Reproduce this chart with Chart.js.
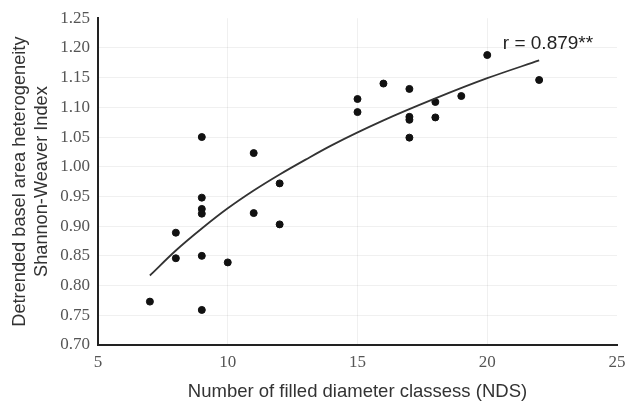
<!DOCTYPE html>
<html lang="en">
  <head>
    <meta charset="UTF-8" />
    <title>NDS vs heterogeneity</title>
    <script src="https://cdn.jsdelivr.net/npm/chart.js"></script>
    <style>
      html, body { margin: 0; padding: 0; background: #fff; }
      .wrap { width: 625px; height: 403px; }
    </style>
  </head>
  <body>
    <div class="wrap">
      <canvas id="ndsChart" width="625" height="403"></canvas>
    </div>

    <script>
      // observed points (NDS, detrended Shannon-Weaver index)
      const ndsX = [7, 8, 8, 9, 9, 9, 9, 9, 9, 10, 11, 11, 12, 12,
                    15, 15, 16, 17, 17, 17, 17, 18, 18, 19, 20, 22];
      const indexY = [0.773, 0.889, 0.846, 1.050, 0.948, 0.929, 0.921, 0.850, 0.759, 0.839, 1.023, 0.922, 0.972, 0.903,
                      1.114, 1.092, 1.140, 1.131, 1.084, 1.079, 1.049, 1.109, 1.083, 1.119, 1.188, 1.146];

      // fitted curve
      const trendX = [7, 8, 9, 10, 11, 12, 13, 14, 16, 18, 20, 22];
      const trendY = [0.817, 0.859, 0.896, 0.930, 0.960, 0.987, 1.012, 1.036, 1.078, 1.115, 1.149, 1.179];

      const xTicks = [5, 10, 15, 20, 25];
      const yTicks = [0.70, 0.75, 0.80, 0.85, 0.90, 0.95, 1.00, 1.05, 1.10, 1.15, 1.20, 1.25];

      const rLabel = "r = 0.879**";

      const rText = {
        id: "rText",
        afterDraw(chart) {
          const c = chart.ctx;
          const xs = chart.scales.x, ys = chart.scales.y;
          c.save();
          c.font = "19px 'Liberation Sans', Arial, sans-serif";
          c.fillStyle = "#222";
          c.textAlign = "left";
          c.textBaseline = "middle";
          c.fillText(rLabel, xs.getPixelForValue(20.6), ys.getPixelForValue(1.207));
          c.restore();
        }
      };

      const gridColor = (ctx) => {
        const v = ctx.tick ? ctx.tick.value : null;
        if (v === 25 || v === 5 || Math.abs(v - 1.25) < 1e-6 || Math.abs(v - 0.70) < 1e-6) return "rgba(0,0,0,0)";
        return "rgba(0,0,0,0.06)";
      };

      const ctx = document.getElementById("ndsChart").getContext("2d");
      new Chart(ctx, {
        type: "scatter",
        data: {
          datasets: [{
            label: "fit",
            data: trendX.map((x, i) => ({ x: x, y: trendY[i] })),
            showLine: true,
            borderColor: "#333",
            borderWidth: 1.8,
            pointRadius: 0,
            tension: 0.4,
            cubicInterpolationMode: "monotone"
          }, {
            label: "sites",
            data: ndsX.map((x, i) => ({ x: x, y: indexY[i] })),
            backgroundColor: "#111",
            borderColor: "#111",
            pointRadius: 3.5,
            pointHoverRadius: 3.5
          }]
        },
        options: {
          responsive: false,
          animation: false,
          layout: { padding: { top: 16, right: 0, left: 0, bottom: 0 } },
          plugins: { legend: { display: false }, tooltip: { enabled: false } },
          scales: {
            x: {
              type: "linear",
              min: 5,
              max: 25,
              afterBuildTicks: (s) => { s.ticks = xTicks.map(v => ({ value: v })); },
              afterFit: (s) => { s.height = 58; s.paddingRight = 8; },
              border: { color: "#222", width: 2 },
              grid: { color: gridColor, drawTicks: false },
              ticks: {
                padding: 7,
                color: "#555",
                font: { family: "'Liberation Serif', 'Times New Roman', serif", size: 17 }
              },
              title: {
                display: true,
                text: "Number of filled diameter classess (NDS)",
                color: "#333",
                padding: { top: 0, bottom: 0 },
                font: { family: "'Liberation Sans', Arial, sans-serif", size: 18.5, lineHeight: 1.2 }
              }
            },
            y: {
              type: "linear",
              min: 0.70,
              max: 1.25,
              afterBuildTicks: (s) => { s.ticks = yTicks.map(v => ({ value: v })); },
              afterFit: (s) => { s.width = 98; },
              border: { color: "#222", width: 2 },
              grid: { color: gridColor, drawTicks: false },
              ticks: {
                padding: 8,
                color: "#555",
                font: { family: "'Liberation Serif', 'Times New Roman', serif", size: 17 },
                callback: (v) => v.toFixed(2)
              },
              title: {
                display: true,
                text: ["Detrended basel area heterogeneity", "Shannon-Weaver Index"],
                color: "#333",
                padding: { top: 9, bottom: 0 },
                font: { family: "'Liberation Sans', Arial, sans-serif", size: 18.2, lineHeight: 1.2 }
              }
            }
          }
        },
        plugins: [rText]
      });
    </script>
  </body>
</html>
